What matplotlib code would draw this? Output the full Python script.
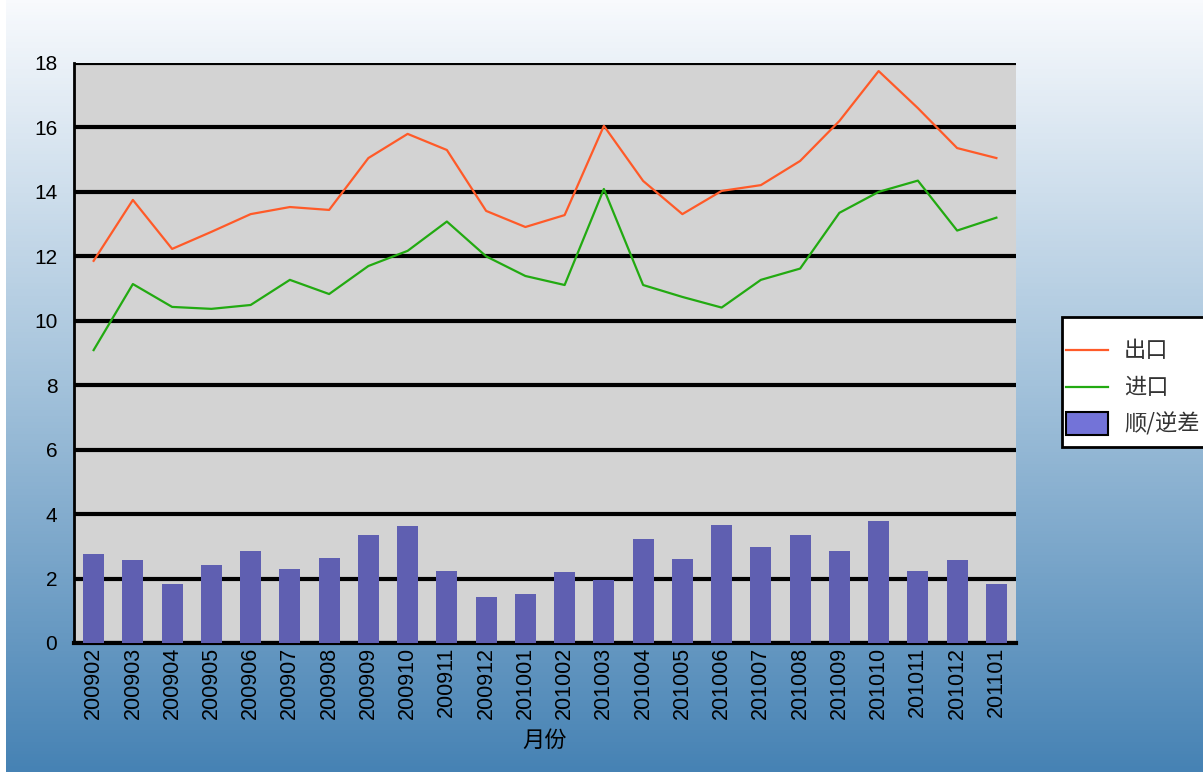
import numpy as np
import matplotlib
matplotlib.use("Agg")
import matplotlib.pyplot as plt
from matplotlib.colors import LinearSegmentedColormap
from matplotlib.patches import Rectangle
from matplotlib.lines import Line2D

plt.rcParams["font.family"] = ["Liberation Sans", "Noto Sans CJK SC", "DejaVu Sans"]
CJK = ["Noto Sans CJK SC", "DejaVu Sans"]

months = ["200902", "200903", "200904", "200905", "200906", "200907", "200908",
          "200909", "200910", "200911", "200912", "201001", "201002", "201003",
          "201004", "201005", "201006", "201007", "201008", "201009", "201010",
          "201011", "201012", "201101"]
exports = [11.86, 13.75, 12.23, 12.76, 13.31, 13.53, 13.44, 15.05, 15.80, 15.30,
           13.41, 12.91, 13.28, 16.05, 14.34, 13.31, 14.03, 14.21, 14.96, 16.20,
           17.75, 16.60, 15.36, 15.05]
imports = [9.09, 11.14, 10.43, 10.37, 10.49, 11.27, 10.83, 11.70, 12.17, 13.08,
           12.00, 11.39, 11.11, 14.09, 11.11, 10.74, 10.41, 11.27, 11.62, 13.35,
           14.00, 14.35, 12.80, 13.20]
balance = [2.76, 2.58, 1.83, 2.42, 2.86, 2.30, 2.64, 3.35, 3.63, 2.23, 1.43,
           1.52, 2.20, 1.96, 3.23, 2.61, 3.66, 2.98, 3.35, 2.86, 3.79, 2.23,
           2.58, 1.83]
series_names = ["出口", "进口", "顺/逆差"]

ORANGE = "#FF5A28"
GREEN = "#22AA11"
BAR = "#5F5FB1"
BAR_LEG = "#7373D8"

W, H = 1203, 772
fig = plt.figure(figsize=(W / 100, H / 100), dpi=100)

# background gradient
bg = fig.add_axes([6 / W, 0, 1 - 6 / W, 1], zorder=-10)
cmap = LinearSegmentedColormap.from_list("bg", ["#F8FAFD", "#A3C2DB", "#4682B4"])
bg.imshow(np.linspace(0, 1, 256).reshape(-1, 1), aspect="auto", cmap=cmap,
          extent=[0, 1, 0, 1], origin="upper")
bg.set_axis_off()

ax = fig.add_axes([74 / W, 1 - 643 / H, (1016 - 74) / W, (643 - 63) / H])
ax.set_facecolor("#D3D3D3")
x = np.arange(len(months))
ax.bar(x, balance, width=0.53, color=BAR, zorder=3)
ax.plot(x, exports, color=ORANGE, lw=1.6, zorder=4)
ax.plot(x, imports, color=GREEN, lw=1.6, zorder=4)

ax.set_xlim(-0.5, len(months) - 0.5)
ax.set_ylim(0, 18)
ax.set_yticks(range(0, 19, 2))
ax.yaxis.grid(True, color="black", lw=3, zorder=2)
ax.set_axisbelow(True)
ax.set_xticks(x)
ax.set_xticklabels(months, rotation=90, fontsize=15.5)
ax.tick_params(axis="y", labelsize=15, length=0, pad=12)
ax.tick_params(axis="x", length=0, pad=3)
for s in ["top", "right"]:
    ax.spines[s].set_visible(False)
ax.spines["left"].set_linewidth(2)
ax.spines["bottom"].set_linewidth(3)
ax.set_xlabel("月份", fontsize=16, family=CJK, labelpad=7)

# legend box, drawn by hand in figure pixels
def fx(px):
    return px / W

def fy(py):
    return 1 - py / H

fig.patches.append(Rectangle((fx(1062), fy(447)), fx(160), (447 - 317) / H,
                             transform=fig.transFigure, facecolor="white",
                             edgecolor="black", lw=2, zorder=5))
rows = [350, 387, 424]
for c, r in zip([ORANGE, GREEN], rows[:2]):
    fig.lines.append(Line2D([fx(1066), fx(1108)], [fy(r), fy(r)],
                            transform=fig.transFigure, color=c, lw=1.6, zorder=6))
fig.patches.append(Rectangle((fx(1066), fy(435)), fx(42), 23 / H,
                             transform=fig.transFigure, facecolor=BAR_LEG,
                             edgecolor="black", lw=1.5, zorder=6))
for name, r in zip(series_names, rows):
    fig.text(fx(1124), fy(r), name, family=CJK, fontsize=16, va="center",
             ha="left", color="#333333", zorder=7)

fig.savefig("out.png", dpi=100)
